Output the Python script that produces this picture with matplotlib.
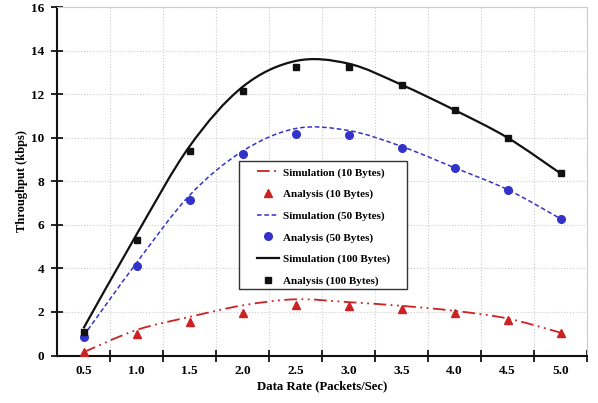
import matplotlib
matplotlib.use("Agg")
import matplotlib.pyplot as plt
from matplotlib.path import Path
from matplotlib.patches import PathPatch, Rectangle
from matplotlib.lines import Line2D
import numpy as np

plt.rcParams['font.family'] = ['Liberation Serif', 'DejaVu Serif']
plt.rcParams['font.weight'] = 'bold'

rates = [0.5, 1.0, 1.5, 2.0, 2.5, 3.0, 3.5, 4.0, 4.5, 5.0]
xtick_labels = ["0.5", "1.0", "1.5", "2.0", "2.5", "3.0", "3.5", "4.0", "4.5", "5.0"]

sim10 = [0.15, 1.17, 1.77, 2.30, 2.58, 2.45, 2.28, 2.05, 1.70, 1.05]
ana10 = [0.15, 1.00, 1.54, 1.97, 2.31, 2.25, 2.15, 1.94, 1.65, 1.04]
sim50 = [0.90, 4.25, 7.35, 9.38, 10.42, 10.33, 9.60, 8.62, 7.62, 6.28]
ana50 = [0.85, 4.10, 7.15, 9.23, 10.16, 10.14, 9.52, 8.61, 7.61, 6.28]
sim100 = [1.25, 5.55, 9.60, 12.33, 13.52, 13.40, 12.43, 11.27, 10.00, 8.36]
ana100 = [1.10, 5.30, 9.37, 12.13, 13.25, 13.23, 12.43, 11.27, 10.00, 8.36]

RED = '#cc2222'
BLUE = '#3333cc'
BLACK = '#111111'

W, H = 598, 403
fig = plt.figure(figsize=(W/100, H/100), dpi=100)
ax = fig.add_axes([57/W, 1-355.5/H, 530/W, (355.5-7)/H])


def smooth_path(xs, ys):
    p = np.column_stack([xs, ys]).astype(float)
    n = len(p)
    verts = [p[0]]
    codes = [Path.MOVETO]
    for i in range(n - 1):
        p0 = p[i - 1] if i > 0 else p[i]
        p1 = p[i]
        p2 = p[i + 1]
        p3 = p[i + 2] if i + 2 < n else p[i + 1]
        c1 = p1 + (p2 - p0) / 6.0
        c2 = p2 - (p3 - p1) / 6.0
        verts += [c1, c2, p2]
        codes += [Path.CURVE4] * 3
    return Path(verts, codes)


style10 = (0, (7, 2.5, 1, 2.5, 1, 2.5))
style50 = (0, (3, 1.8))

ax.add_patch(PathPatch(smooth_path(rates, sim100), fill=False, edgecolor=BLACK, lw=1.6, zorder=3))
ax.add_patch(PathPatch(smooth_path(rates, sim50), fill=False, edgecolor=BLUE, lw=1.1, linestyle=style50, zorder=3))
ax.add_patch(PathPatch(smooth_path(rates, sim10), fill=False, edgecolor=RED, lw=1.3, linestyle=style10, zorder=3))

ax.plot(rates, ana10, linestyle='none', marker='^', color=RED, ms=6, zorder=4)
ax.plot(rates, ana50, linestyle='none', marker='o', color=BLUE, ms=5.5, zorder=4)
ax.plot(rates, ana100, linestyle='none', marker='s', color=BLACK, ms=5, zorder=4)

ax.set_xlim(0.25, 5.25)
ax.set_ylim(0, 16)
ax.set_xticks(rates)
ax.set_xticklabels(xtick_labels)
ax.set_xticks(np.arange(0.75, 5.26, 0.5), minor=True)
ax.set_yticks(np.arange(0, 17, 2))
ax.tick_params(axis='x', which='major', length=0, labelsize=9.5, pad=6.5)
ax.tick_params(axis='x', which='minor', direction='inout', length=8, width=1.2)
ax.tick_params(axis='y', which='major', direction='inout', length=8, width=1.2, labelsize=9.5, pad=5)
ax.grid(True, which='minor', axis='x', color='#cccccc', linestyle=':', lw=0.8)
ax.grid(True, which='major', axis='y', color='#cccccc', linestyle=':', lw=0.8)
ax.set_axisbelow(True)
for s in ['left', 'bottom']:
    ax.spines[s].set_linewidth(1.5)
    ax.spines[s].set_color('#111111')
for s in ['top', 'right']:
    ax.spines[s].set_linewidth(0.8)
    ax.spines[s].set_color('#cccccc')

ax.set_xlabel('Data Rate (Packets/Sec)', fontsize=9.2, fontweight='bold', labelpad=3)
ax.set_ylabel('Throughput (kbps)', fontsize=9, fontweight='bold', labelpad=2.5)

# legend frame drawn as a rectangle in figure pixels
fig.add_artist(Rectangle((239/W, 1-289/H), (407-239)/W, (289-161)/H, transform=fig.transFigure,
                         facecolor='white', edgecolor='#333333', lw=1.0, zorder=5))

handles = [
    Line2D([], [], color=RED, lw=1.3, linestyle=style10),
    Line2D([], [], color=RED, marker='^', linestyle='none', ms=6),
    Line2D([], [], color=BLUE, lw=1.1, linestyle=style50),
    Line2D([], [], color=BLUE, marker='o', linestyle='none', ms=5.5),
    Line2D([], [], color=BLACK, lw=1.6),
    Line2D([], [], color=BLACK, marker='s', linestyle='none', ms=5),
]
labels = ['Simulation (10 Bytes)', 'Analysis (10 Bytes)', 'Simulation (50 Bytes)',
          'Analysis (50 Bytes)', 'Simulation (100 Bytes)', 'Analysis (100 Bytes)']
leg = fig.legend(handles, labels, loc='upper left', bbox_to_anchor=(257/W, 1-167.5/H),
                 frameon=False,
                 prop={'family': 'Liberation Serif', 'weight': 'bold', 'size': 8},
                 handlelength=2.0, handletextpad=0.3, labelspacing=1.05, borderpad=0,
                 borderaxespad=0)
leg.set_zorder(6)

fig.savefig('out.png', dpi=100)
